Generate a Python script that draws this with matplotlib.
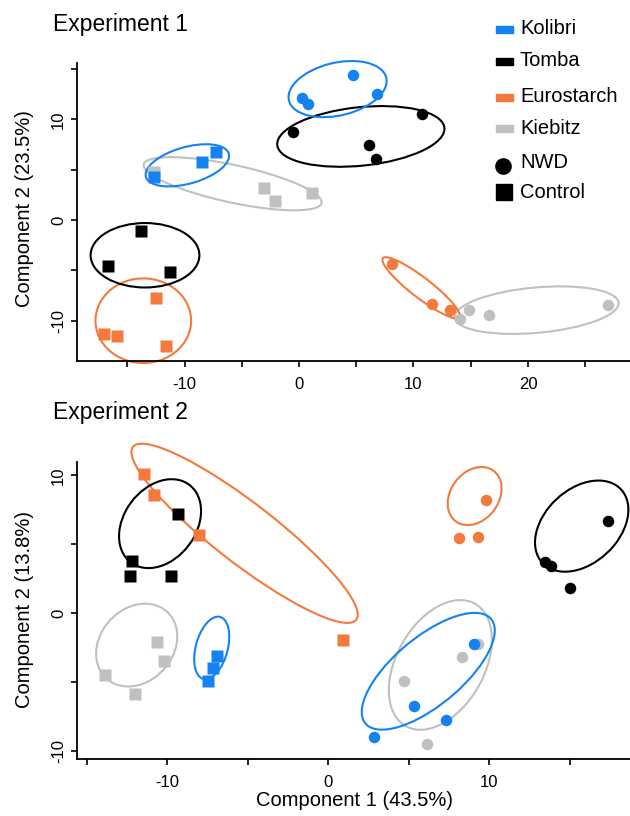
import matplotlib
matplotlib.use("Agg")
import matplotlib.pyplot as plt
from matplotlib.patches import Ellipse, Rectangle
from matplotlib.ticker import MultipleLocator, FuncFormatter

plt.rcParams['font.family'] = ['Liberation Sans', 'DejaVu Sans']

# varieties, in legend order
varieties = ["Kolibri", "Tomba", "Eurostarch", "Kiebitz"]
colors = ["#1582f2", "#000000", "#f37a3c", "#c0c0c0"]
treatments = ["NWD", "Control"]

# Experiment 1 scores (Component 1, Component 2), one list per variety
e1_nwd_x = [[0.23, 0.8, 4.75, 6.8], [-0.5, 6.1, 6.7, 10.7],
            [8.15, 11.6, 13.2], [14.1, 14.85, 16.6, 27.0]]
e1_nwd_y = [[12.1, 11.5, 14.4, 12.5], [8.7, 7.4, 6.1, 10.5],
            [-4.4, -8.3, -8.9], [-9.8, -8.9, -9.4, -8.4]]
e1_ctrl_x = [[-12.66, -8.5, -7.25], [-13.8, -16.7, -11.3],
             [-12.5, -17.0, -15.9, -11.6], [-12.7, -3.1, -2.1, 1.1]]
e1_ctrl_y = [[4.24, 5.73, 6.79], [-1.1, -4.6, -5.2],
             [-7.7, -11.3, -11.5, -12.5], [4.8, 3.2, 1.9, 2.7]]
# ellipses: centre x, centre y, width, height, angle
e1_nwd_ell = [(3.37, 13.0, 8.8, 5.2, 16.5), (5.4, 8.3, 14.7, 5.8, 7),
              (10.67, -6.73, 8.9, 1.9, -41.6), (20.75, -8.95, 14.4, 4.5, 6)]
e1_ctrl_ell = [(-9.75, 5.43, 7.6, 3.6, 18.7), (-13.45, -3.5, 9.5, 6.4, 0),
               (-13.6, -10.0, 8.35, 8.4, 0), (-5.8, 3.6, 16.0, 3.7, -14)]

# Experiment 2 scores
e2_nwd_x = [[9.07, 5.34, 7.29, 2.84], [17.4, 13.46, 13.83, 15.0],
            [9.8, 8.1, 9.28], [9.32, 8.28, 4.7, 6.1]]
e2_nwd_y = [[-2.2, -6.71, -7.73, -8.99], [6.7, 3.7, 3.45, 1.86],
            [8.2, 5.48, 5.56], [-2.2, -3.19, -4.9, -9.47]]
e2_ctrl_x = [[-6.94, -7.14, -7.45], [-12.17, -12.3, -9.77, -9.36],
             [-11.45, -10.83, -8.03, 0.93], [-10.62, -10.2, -13.9, -12.0]]
e2_ctrl_y = [[-3.07, -3.99, -4.9], [3.82, 2.73, 2.73, 7.17],
             [10.1, 8.6, 5.68, -1.93], [-2.1, -3.45, -4.5, -5.87]]
e2_nwd_ell = [(6.21, -4.2, 10.9, 4.6, 46), (15.74, 6.32, 7.3, 4.9, 55),
              (9.09, 8.5, 4.4, 3.1, 66), (6.96, -3.74, 9.9, 5.6, 67.7)]
e2_ctrl_ell = [(-7.24, -2.51, 4.62, 2.0, 78), (-10.45, 6.5, 6.77, 4.65, 65),
               (-5.2, 5.8, 18.7, 4.1, -42.5), (-11.9, -2.3, 6.24, 4.74, 65)]

W, H = 630, 816
fig = plt.figure(figsize=(W / 100, H / 100), dpi=100)


def px_axes(left, top, right, bottom):
    return fig.add_axes([left / W, 1 - bottom / H, (right - left) / W, (bottom - top) / H])


def style(ax):
    for s in ("top", "right"):
        ax.spines[s].set_visible(False)
    for s in ("left", "bottom"):
        ax.spines[s].set_linewidth(1.3)
    ax.xaxis.set_major_locator(MultipleLocator(5))
    ax.yaxis.set_major_locator(MultipleLocator(5))
    fmt = FuncFormatter(lambda v, p: "%d" % v if round(v) % 10 == 0 else "")
    ax.xaxis.set_major_formatter(fmt)
    ax.yaxis.set_major_formatter(fmt)
    ax.tick_params(direction="out", length=4.5, width=1.2, labelsize=12)
    ax.tick_params(axis="x", pad=7)
    ax.tick_params(axis="y", pad=3.5, labelrotation=90)
    for lab in ax.get_yticklabels():
        lab.set_va("center")


def draw(ax, nwd_x, nwd_y, ctrl_x, ctrl_y, nwd_ell, ctrl_ell):
    order = [3, 2, 1, 0]
    for i in order:
        for cx, cy, w, h, ang in (nwd_ell[i], ctrl_ell[i]):
            ax.add_patch(Ellipse((cx, cy), w, h, angle=ang, fill=False,
                                 ec=colors[i], lw=1.5, clip_on=False, zorder=1))
    for i in order:
        ax.plot(ctrl_x[i], ctrl_y[i], "s", ms=8.3, color=colors[i], mec="none",
                ls="none", zorder=3, clip_on=False)
        ax.plot(nwd_x[i], nwd_y[i], "o", ms=8.3, color=colors[i], mec="none",
                ls="none", zorder=3, clip_on=False)


# Experiment 1
ax1 = px_axes(77, 63, 630, 361)
draw(ax1, e1_nwd_x, e1_nwd_y, e1_ctrl_x, e1_ctrl_y, e1_nwd_ell, e1_ctrl_ell)
ax1.set_xlim(-19.39, 28.91)
ax1.set_ylim(-14.0, 15.59)
style(ax1)
fig.text(53 / W, 1 - 24 / H, "Experiment 1", fontsize=16.5, va="center")
fig.text(24 / W, 1 - 209 / H, "Component 2 (23.5%)", fontsize=14.5,
         rotation=90, ha="center", va="center")

# Experiment 2
ax2 = px_axes(77.3, 461.7, 630, 759.3)
draw(ax2, e2_nwd_x, e2_nwd_y, e2_ctrl_x, e2_ctrl_y, e2_nwd_ell, e2_ctrl_ell)
ax2.set_xlim(-15.59, 18.74)
ax2.set_ylim(-10.58, 10.99)
style(ax2)
fig.text(53 / W, 1 - 413 / H, "Experiment 2", fontsize=16.5, va="center")
fig.text(24 / W, 1 - 609 / H, "Component 2 (13.8%)", fontsize=14.5,
         rotation=90, ha="center", va="center")
fig.text(355 / W, 1 - 800 / H, "Component 1 (43.5%)", fontsize=14.5,
         ha="center", va="center")

# legend drawn in pixel space
leg = fig.add_axes([0, 0, 1, 1])
leg.set_xlim(0, W)
leg.set_ylim(H, 0)
leg.axis("off")
leg_y = [29, 61, 97, 128]
for name, c, y in zip(varieties, colors, leg_y):
    leg.add_patch(Rectangle((496, y - 3.5), 17, 7, color=c))
    leg.text(520, y, name, fontsize=14.5, va="center")
leg.plot([503], [166], "o", ms=11, color="black")
leg.plot([504], [192], "s", ms=11, color="black")
leg.text(520, 163, treatments[0], fontsize=14.5, va="center")
leg.text(520, 192, treatments[1], fontsize=14.5, va="center")

fig.savefig("out.png", dpi=100)
